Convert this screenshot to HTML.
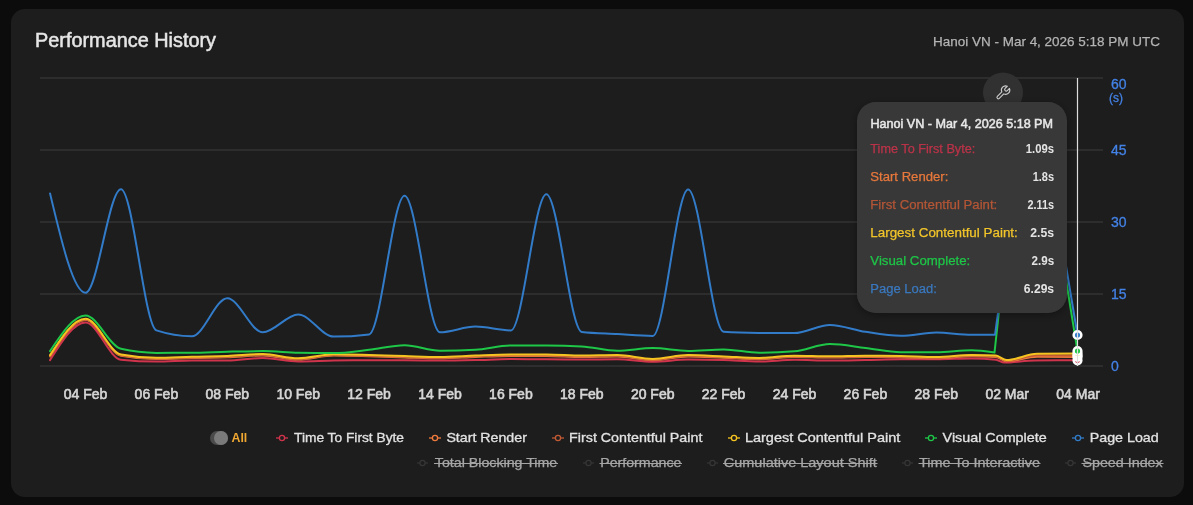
<!DOCTYPE html>
<html><head><meta charset="utf-8">
<style>
html,body{margin:0;padding:0;background:#0c0c0c;width:1193px;height:505px;overflow:hidden}
svg{display:block;font-family:"Liberation Sans",sans-serif;will-change:transform}
</style></head>
<body>
<svg width="1193" height="505" viewBox="0 0 1193 505">
<defs><filter id="sh" x="-20%" y="-20%" width="140%" height="140%"><feDropShadow dx="0" dy="2" stdDeviation="4" flood-color="#000" flood-opacity="0.35"/></filter></defs>
<rect x="11" y="9" width="1173" height="488" rx="14" fill="#1d1d1d"/>
<text x="35" y="46.8" font-size="19.5" fill="#e6e6e6" stroke="#e6e6e6" stroke-width="0.5" textLength="181" lengthAdjust="spacingAndGlyphs">Performance History</text>
<text x="933" y="45.7" font-size="13.5" fill="#b4b4b4" stroke="#b4b4b4" stroke-width="0.25" textLength="227" lengthAdjust="spacingAndGlyphs">Hanoi VN - Mar 4, 2026 5:18 PM UTC</text>
<g stroke="#3e3e3e" stroke-width="1">
<line x1="40" y1="78" x2="1103" y2="78"/>
<line x1="40" y1="150" x2="1103" y2="150"/>
<line x1="40" y1="222" x2="1103" y2="222"/>
<line x1="40" y1="294" x2="1103" y2="294"/>
<line x1="40" y1="366" x2="1103" y2="366"/>
</g>
<g font-size="14" fill="#4382e6" stroke="#4382e6" stroke-width="0.3">
<text x="1111" y="88.5">60</text>
<text x="1109" y="101.8" font-size="12.5" textLength="14" lengthAdjust="spacingAndGlyphs">(s)</text>
<text x="1111" y="155">45</text>
<text x="1111" y="227">30</text>
<text x="1111" y="299">15</text>
<text x="1111" y="371">0</text>
</g>
<g font-size="14" fill="#d6d6d6" stroke="#d6d6d6" stroke-width="0.6" text-anchor="middle">
<text x="85.5" y="399.1">04 Feb</text>
<text x="156.4" y="399.1">06 Feb</text>
<text x="227.3" y="399.1">08 Feb</text>
<text x="298.2" y="399.1">10 Feb</text>
<text x="369.1" y="399.1">12 Feb</text>
<text x="440" y="399.1">14 Feb</text>
<text x="510.9" y="399.1">16 Feb</text>
<text x="581.8" y="399.1">18 Feb</text>
<text x="652.7" y="399.1">20 Feb</text>
<text x="723.6" y="399.1">22 Feb</text>
<text x="794.5" y="399.1">24 Feb</text>
<text x="865.4" y="399.1">26 Feb</text>
<text x="936.3" y="399.1">28 Feb</text>
<text x="1007.2" y="399.1">02 Mar</text>
<text x="1078.1" y="399.1">04 Mar</text>
</g>
<g fill="none" stroke-width="2" stroke-linejoin="round" stroke-linecap="round">
<path d="M50.05,360.10C61.87,341.25 73.68,322.40 85.50,322.40C97.32,322.40 109.13,358.43 120.95,359.70C132.77,360.97 144.58,361.60 156.40,361.60C168.22,361.60 180.03,360.67 191.85,360.60C203.67,360.53 215.48,360.57 227.30,360.50C239.12,360.43 250.93,358.00 262.75,358.00C274.57,358.00 286.38,361.40 298.20,361.40C310.02,361.40 321.83,360.78 333.65,360.60C345.47,360.42 357.28,360.30 369.10,360.30C380.92,360.30 392.73,360.30 404.55,360.30C416.37,360.30 428.18,360.60 440.00,360.60C451.82,360.60 463.63,360.35 475.45,360.10C487.27,359.85 499.08,359.10 510.90,359.10C522.72,359.10 534.53,359.22 546.35,359.30C558.17,359.38 569.98,359.60 581.80,359.60C593.62,359.60 605.43,359.30 617.25,359.30C629.07,359.30 640.88,361.70 652.70,361.70C664.52,361.70 676.33,359.60 688.15,359.60C699.97,359.60 711.78,359.77 723.60,360.10C735.42,360.43 747.23,361.60 759.05,361.60C770.87,361.60 782.68,359.80 794.50,359.80C806.32,359.80 818.13,360.50 829.95,360.50C841.77,360.50 853.58,360.20 865.40,360.00C877.22,359.80 889.03,359.30 900.85,359.30C912.67,359.30 924.48,359.30 936.30,359.30C948.12,359.30 959.93,358.40 971.75,358.40C979.83,358.40 987.92,358.83 996.00,359.70C998.77,360.00 1001.53,362.60 1004.30,362.60C1014.53,362.60 1024.77,360.60 1035.00,360.50C1049.17,360.37 1063.33,360.33 1077.50,360.30" stroke="#d0344c"/>
<path d="M50.05,356.50C61.87,338.30 73.68,320.10 85.50,320.10C97.32,320.10 109.13,353.60 120.95,355.80C132.77,358.00 144.58,359.10 156.40,359.10C168.22,359.10 180.03,358.30 191.85,358.00C203.67,357.70 215.48,357.73 227.30,357.30C239.12,356.87 250.93,355.40 262.75,355.40C274.57,355.40 286.38,359.60 298.20,359.60C310.02,359.60 321.83,355.60 333.65,355.60C345.47,355.60 357.28,356.00 369.10,356.30C380.92,356.60 392.73,357.07 404.55,357.40C416.37,357.73 428.18,358.30 440.00,358.30C451.82,358.30 463.63,357.30 475.45,356.90C487.27,356.50 499.08,355.90 510.90,355.90C522.72,355.90 534.53,355.90 546.35,355.90C558.17,355.90 569.98,356.90 581.80,356.90C593.62,356.90 605.43,356.40 617.25,356.40C629.07,356.40 640.88,360.20 652.70,360.20C664.52,360.20 676.33,356.40 688.15,356.40C699.97,356.40 711.78,357.23 723.60,357.70C735.42,358.17 747.23,359.20 759.05,359.20C770.87,359.20 782.68,357.00 794.50,357.00C806.32,357.00 818.13,357.60 829.95,357.60C841.77,357.60 853.58,357.00 865.40,357.00C877.22,357.00 889.03,357.10 900.85,357.30C912.67,357.50 924.48,358.30 936.30,358.30C948.12,358.30 959.93,356.20 971.75,356.20C979.80,356.20 987.85,356.47 995.90,357.00C999.43,357.23 1002.97,361.30 1006.50,361.30C1016.67,361.30 1026.83,356.80 1037.00,356.80C1050.50,356.80 1064.00,356.85 1077.50,356.90" stroke="#ee7a3c"/>
<path d="M50.05,355.90C61.87,337.70 73.68,319.50 85.50,319.50C97.32,319.50 109.13,353.00 120.95,355.20C132.77,357.40 144.58,358.50 156.40,358.50C168.22,358.50 180.03,357.70 191.85,357.40C203.67,357.10 215.48,357.13 227.30,356.70C239.12,356.27 250.93,354.80 262.75,354.80C274.57,354.80 286.38,359.00 298.20,359.00C310.02,359.00 321.83,355.00 333.65,355.00C345.47,355.00 357.28,355.40 369.10,355.70C380.92,356.00 392.73,356.47 404.55,356.80C416.37,357.13 428.18,357.70 440.00,357.70C451.82,357.70 463.63,356.70 475.45,356.30C487.27,355.90 499.08,355.30 510.90,355.30C522.72,355.30 534.53,355.30 546.35,355.30C558.17,355.30 569.98,356.30 581.80,356.30C593.62,356.30 605.43,355.80 617.25,355.80C629.07,355.80 640.88,359.60 652.70,359.60C664.52,359.60 676.33,355.80 688.15,355.80C699.97,355.80 711.78,356.63 723.60,357.10C735.42,357.57 747.23,358.60 759.05,358.60C770.87,358.60 782.68,356.40 794.50,356.40C806.32,356.40 818.13,357.00 829.95,357.00C841.77,357.00 853.58,356.40 865.40,356.40C877.22,356.40 889.03,356.50 900.85,356.70C912.67,356.90 924.48,357.70 936.30,357.70C948.12,357.70 959.93,355.60 971.75,355.60C979.80,355.60 987.85,355.83 995.90,356.30C999.43,356.50 1002.97,360.70 1006.50,360.70C1016.67,360.70 1026.83,355.30 1037.00,355.30C1050.50,355.30 1064.00,355.35 1077.50,355.40" stroke="#c25a34"/>
<path d="M50.05,355.20C61.87,337.00 73.68,318.80 85.50,318.80C97.32,318.80 109.13,352.30 120.95,354.50C132.77,356.70 144.58,357.80 156.40,357.80C168.22,357.80 180.03,357.00 191.85,356.70C203.67,356.40 215.48,356.43 227.30,356.00C239.12,355.57 250.93,354.10 262.75,354.10C274.57,354.10 286.38,358.30 298.20,358.30C310.02,358.30 321.83,354.30 333.65,354.30C345.47,354.30 357.28,354.70 369.10,355.00C380.92,355.30 392.73,355.77 404.55,356.10C416.37,356.43 428.18,357.00 440.00,357.00C451.82,357.00 463.63,356.00 475.45,355.60C487.27,355.20 499.08,354.60 510.90,354.60C522.72,354.60 534.53,354.60 546.35,354.60C558.17,354.60 569.98,355.60 581.80,355.60C593.62,355.60 605.43,355.10 617.25,355.10C629.07,355.10 640.88,358.90 652.70,358.90C664.52,358.90 676.33,355.10 688.15,355.10C699.97,355.10 711.78,355.93 723.60,356.40C735.42,356.87 747.23,357.90 759.05,357.90C770.87,357.90 782.68,355.70 794.50,355.70C806.32,355.70 818.13,356.30 829.95,356.30C841.77,356.30 853.58,355.70 865.40,355.70C877.22,355.70 889.03,355.80 900.85,356.00C912.67,356.20 924.48,357.00 936.30,357.00C948.12,357.00 959.93,354.90 971.75,354.90C979.80,354.90 987.85,355.10 995.90,355.50C999.43,355.68 1002.97,360.10 1006.50,360.10C1016.67,360.10 1026.83,353.95 1037.00,353.80C1050.50,353.60 1064.00,353.55 1077.50,353.50" stroke="#f6c420"/>
<path d="M50.05,351.10C61.87,333.35 73.68,315.60 85.50,315.60C97.32,315.60 109.13,346.07 120.95,348.80C132.77,351.53 144.58,352.90 156.40,352.90C168.22,352.90 180.03,352.83 191.85,352.70C203.67,352.57 215.48,351.97 227.30,351.70C239.12,351.43 250.93,351.10 262.75,351.10C274.57,351.10 286.38,352.43 298.20,352.70C310.02,352.97 321.83,353.10 333.65,353.10C345.47,353.10 357.28,351.10 369.10,349.80C380.92,348.50 392.73,345.30 404.55,345.30C416.37,345.30 428.18,350.70 440.00,350.70C451.82,350.70 463.63,350.37 475.45,349.70C487.27,349.03 499.08,345.50 510.90,345.50C522.72,345.50 534.53,345.50 546.35,345.50C558.17,345.50 569.98,345.80 581.80,346.40C593.62,347.00 605.43,350.80 617.25,350.80C629.07,350.80 640.88,348.10 652.70,348.10C664.52,348.10 676.33,350.90 688.15,350.90C699.97,350.90 711.78,349.50 723.60,349.50C735.42,349.50 747.23,352.70 759.05,352.70C770.87,352.70 782.68,352.23 794.50,351.30C806.32,350.37 818.13,344.10 829.95,344.10C841.77,344.10 853.58,346.55 865.40,347.90C877.22,349.25 889.03,352.20 900.85,352.20C912.67,352.20 924.48,352.20 936.30,352.20C948.12,352.20 959.93,350.30 971.75,350.30C979.33,350.30 986.92,351.45 994.50,352.60 L998.8,313 L1003,270 L1040,210 L1060,243 L1077.5,351" stroke="#1ec747"/>
<path d="M50.05,193.50C61.87,243.15 73.68,292.80 85.50,292.80C97.32,292.80 109.13,189.20 120.95,189.20C132.77,189.20 144.58,326.53 156.40,330.40C168.22,334.27 180.03,336.20 191.85,336.20C203.67,336.20 215.48,298.30 227.30,298.30C239.12,298.30 250.93,332.30 262.75,332.30C274.57,332.30 286.38,314.50 298.20,314.50C310.02,314.50 321.83,336.60 333.65,336.60C345.47,336.60 357.28,335.87 369.10,334.40C380.92,332.93 392.73,195.80 404.55,195.80C416.37,195.80 428.18,332.30 440.00,332.30C451.82,332.30 463.63,326.60 475.45,326.60C487.27,326.60 499.08,330.40 510.90,330.40C522.72,330.40 534.53,194.30 546.35,194.30C558.17,194.30 569.98,330.60 581.80,332.00C593.62,333.40 605.43,333.43 617.25,334.10C629.07,334.77 640.88,336.00 652.70,336.00C664.52,336.00 676.33,189.40 688.15,189.40C699.97,189.40 711.78,330.90 723.60,331.70C735.42,332.50 747.23,332.77 759.05,332.90C770.87,333.03 782.68,333.10 794.50,333.10C806.32,333.10 818.13,324.90 829.95,324.90C841.77,324.90 853.58,329.98 865.40,331.80C877.22,333.62 889.03,335.80 900.85,335.80C912.67,335.80 924.48,332.50 936.30,332.50C948.12,332.50 959.93,334.80 971.75,334.80C979.50,334.80 987.25,334.80 995.00,334.80 L998,313 L1004,260 L1040,200 L1060,230 L1077.5,335" stroke="#327bc8"/>
</g>
<g stroke="#ffffff" stroke-width="2.5">
<circle cx="1077.5" cy="360.3" r="3.85" fill="#d0344c"/>
<circle cx="1077.5" cy="356.9" r="3.85" fill="#ee7a3c"/>
<circle cx="1077.5" cy="355.4" r="3.85" fill="#c25a34"/>
<circle cx="1077.5" cy="353.5" r="3.85" fill="#f6c420"/>
<circle cx="1077.5" cy="351" r="3.85" fill="#1ec747"/>
<circle cx="1077.5" cy="335" r="3.85" fill="#327bc8"/>
</g>
<line x1="1077.5" y1="78" x2="1077.5" y2="366" stroke="#dedede" stroke-width="1.2"/>
<circle cx="1003" cy="92.5" r="20" fill="#313131"/>
<g transform="translate(1005.6,90.1) rotate(45)" fill="none" stroke="#cfcfcf" stroke-width="1.1" stroke-linejoin="round"><path d="M-1.35,3.98 L-1.35,10.3 A1.35,1.35 0 0 0 1.35,10.3 L1.35,3.98 A4.2,4.2 0 0 0 1.55,-3.9 L1.55,-0.9 A1.55,1.55 0 0 1 -1.55,-0.9 L-1.55,-3.9 A4.2,4.2 0 0 0 -1.35,3.98 Z"/></g>
<rect x="857" y="102" width="210" height="211" rx="19" fill="#393939" filter="url(#sh)"/>
<text x="870.5" y="128.3" font-size="12.5" fill="#e8e8e8" stroke="#e8e8e8" stroke-width="0.5" textLength="182.5" lengthAdjust="spacingAndGlyphs">Hanoi VN - Mar 4, 2026 5:18 PM</text>
<g font-size="12.5" stroke-width="0.25">
<text x="870.3" y="153" fill="#bc3349" stroke="#bc3349" textLength="105" lengthAdjust="spacingAndGlyphs">Time To First Byte:</text>
<text x="870.3" y="181" fill="#e8783c" stroke="#e8783c" textLength="78" lengthAdjust="spacingAndGlyphs">Start Render:</text>
<text x="870.3" y="209" fill="#b45636" stroke="#b45636" textLength="127" lengthAdjust="spacingAndGlyphs">First Contentful Paint:</text>
<text x="870.3" y="237" fill="#f2c52a" stroke="#f2c52a" textLength="147.5" lengthAdjust="spacingAndGlyphs">Largest Contentful Paint:</text>
<text x="870.3" y="265" fill="#1ec547" stroke="#1ec547" textLength="100" lengthAdjust="spacingAndGlyphs">Visual Complete:</text>
<text x="870.3" y="293" fill="#3a78be" stroke="#3a78be" textLength="66.5" lengthAdjust="spacingAndGlyphs">Page Load:</text>
</g>
<g font-size="12.5" font-weight="700" fill="#e4e4e4">
<text x="1025.8" y="153.3" textLength="28.3" lengthAdjust="spacingAndGlyphs">1.09s</text>
<text x="1032.7" y="181.3" textLength="21.4" lengthAdjust="spacingAndGlyphs">1.8s</text>
<text x="1027.5" y="209.3" textLength="26.6" lengthAdjust="spacingAndGlyphs">2.11s</text>
<text x="1030.3" y="237.3" textLength="23.8" lengthAdjust="spacingAndGlyphs">2.5s</text>
<text x="1031.5" y="265.3" textLength="22.6" lengthAdjust="spacingAndGlyphs">2.9s</text>
<text x="1023.8" y="293.3" textLength="30.3" lengthAdjust="spacingAndGlyphs">6.29s</text>
</g>
<!-- legend row 1 -->
<rect x="210" y="431" width="18" height="14" rx="7" fill="#4a4a4a"/>
<circle cx="221" cy="438" r="7" fill="#7a7a7a"/>
<text x="231.5" y="441.6" font-size="13.5" font-weight="700" fill="#f0a832" textLength="15.8" lengthAdjust="spacingAndGlyphs">All</text>
<g stroke-width="1.3" fill="none">
<g stroke="#d0344c"><line x1="276" y1="438" x2="288" y2="438"/><circle cx="282" cy="438" r="2.6" fill="#1d1d1d"/></g>
<g stroke="#ee7a3c"><line x1="429" y1="438" x2="441" y2="438"/><circle cx="435" cy="438" r="2.6" fill="#1d1d1d"/></g>
<g stroke="#c25a34"><line x1="552" y1="438" x2="564" y2="438"/><circle cx="558" cy="438" r="2.6" fill="#1d1d1d"/></g>
<g stroke="#f6c420"><line x1="728" y1="438" x2="740" y2="438"/><circle cx="734" cy="438" r="2.6" fill="#1d1d1d"/></g>
<g stroke="#1ec747"><line x1="925" y1="438" x2="937" y2="438"/><circle cx="931" cy="438" r="2.6" fill="#1d1d1d"/></g>
<g stroke="#327bc8"><line x1="1072" y1="438" x2="1084" y2="438"/><circle cx="1078" cy="438" r="2.6" fill="#1d1d1d"/></g>
</g>
<g font-size="13" fill="#e2e2e2" stroke="#e2e2e2" stroke-width="0.3">
<text x="294" y="441.5" textLength="110" lengthAdjust="spacingAndGlyphs">Time To First Byte</text>
<text x="446.4" y="441.5" textLength="80.5" lengthAdjust="spacingAndGlyphs">Start Render</text>
<text x="569.1" y="441.5" textLength="133.3" lengthAdjust="spacingAndGlyphs">First Contentful Paint</text>
<text x="744.9" y="441.5" textLength="155.4" lengthAdjust="spacingAndGlyphs">Largest Contentful Paint</text>
<text x="942.6" y="441.5" textLength="104.1" lengthAdjust="spacingAndGlyphs">Visual Complete</text>
<text x="1089.7" y="441.5" textLength="69" lengthAdjust="spacingAndGlyphs">Page Load</text>
</g>
<!-- legend row 2 -->
<g stroke-width="1.2" fill="none" stroke="#363636">
<line x1="417" y1="463" x2="428" y2="463"/><circle cx="422.5" cy="463" r="2.6" fill="#1d1d1d"/>
<line x1="583" y1="463" x2="594" y2="463"/><circle cx="588.5" cy="463" r="2.6" fill="#1d1d1d"/>
<line x1="707" y1="463" x2="718" y2="463"/><circle cx="712.5" cy="463" r="2.6" fill="#1d1d1d"/>
<line x1="902" y1="463" x2="913" y2="463"/><circle cx="907.5" cy="463" r="2.6" fill="#1d1d1d"/>
<line x1="1065" y1="463" x2="1076" y2="463"/><circle cx="1070.5" cy="463" r="2.6" fill="#1d1d1d"/>
</g>
<g font-size="13" fill="#a8a8a8" stroke="#a8a8a8" stroke-width="0.25">
<text x="434.8" y="467.4" textLength="122.4" lengthAdjust="spacingAndGlyphs">Total Blocking Time</text>
<text x="600.2" y="467.4" textLength="81.2" lengthAdjust="spacingAndGlyphs">Performance</text>
<text x="723.8" y="467.4" textLength="152.9" lengthAdjust="spacingAndGlyphs">Cumulative Layout Shift</text>
<text x="919" y="467.4" textLength="121" lengthAdjust="spacingAndGlyphs">Time To Interactive</text>
<text x="1082.4" y="467.4" textLength="80.3" lengthAdjust="spacingAndGlyphs">Speed Index</text>
</g>
<g stroke="#a4a4a4" stroke-width="1.2">
<line x1="434" y1="463.5" x2="558" y2="463.5"/>
<line x1="599.5" y1="463.5" x2="682" y2="463.5"/>
<line x1="723" y1="463.5" x2="877.5" y2="463.5"/>
<line x1="918.5" y1="463.5" x2="1040.5" y2="463.5"/>
<line x1="1081.5" y1="463.5" x2="1163.5" y2="463.5"/>
</g>
</svg>
</body></html>
